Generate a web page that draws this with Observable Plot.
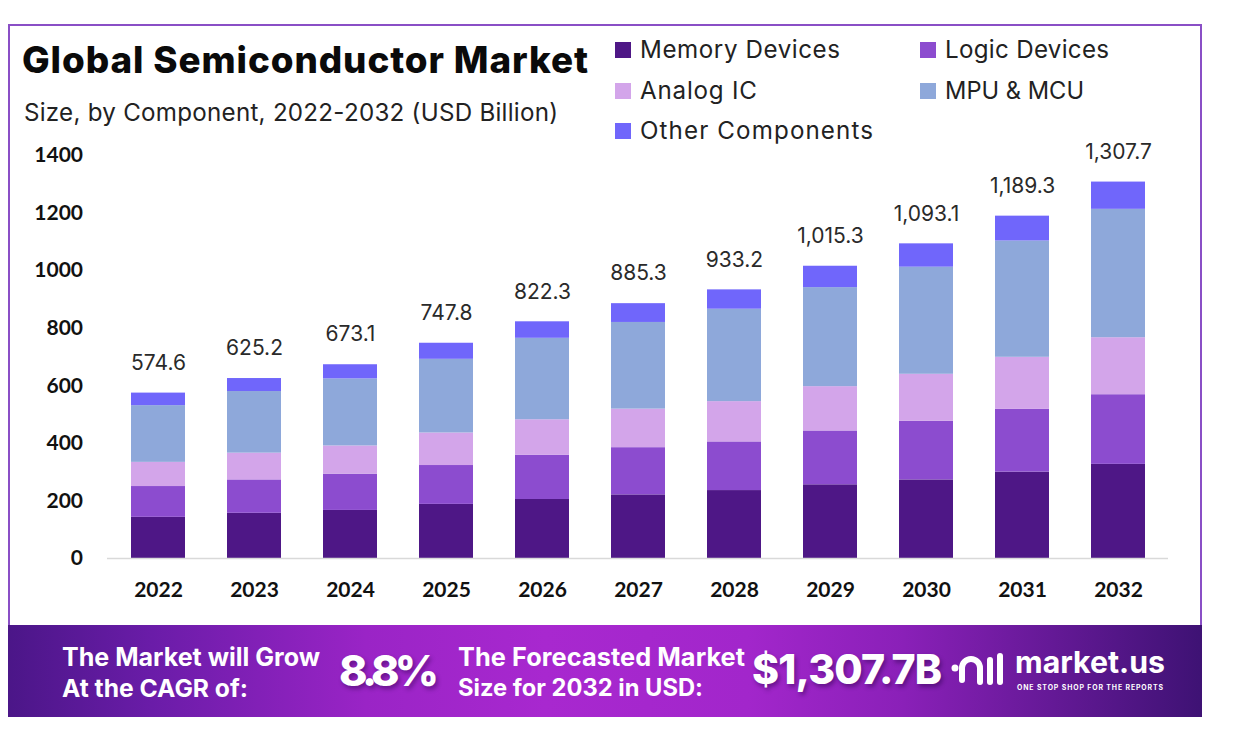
<!DOCTYPE html>
<html>
<head>
<meta charset="utf-8">
<script src="https://cdn.jsdelivr.net/npm/d3@7"></script>
<script src="https://cdn.jsdelivr.net/npm/@observablehq/plot@0.6"></script>
<style>
  html, body { margin: 0; padding: 0; background: #fff; }
  #page { position: relative; width: 1239px; height: 742px; overflow: hidden; font-family: Inter, "Open Sans", sans-serif; }
  .abs { position: absolute; white-space: nowrap; }
  #frame { position: absolute; left: 8px; top: 24px; width: 1190px; height: 605px; border: 2px solid #8a4fc6; box-sizing: content-box; }
  #title { left: 22px; top: 38px; font-size: 32px; font-weight: 800; color: #0a0a0a; line-height: 44px; }
  #subtitle { left: 24px; top: 98px; font-size: 21px; font-weight: 400; color: #222; line-height: 30px; }
  .leg { position: absolute; font-size: 21px; color: #222; line-height: 30px; white-space: nowrap; }
  .sw { position: absolute; width: 16px; height: 16px; }
  #banner { position: absolute; left: 8px; top: 625px; width: 1194px; height: 92px;
    background: linear-gradient(90deg, #4b1688 0%, #6a1ca8 12%, #9a24c6 30%, #a828cf 45%, #a226cb 62%, #8a20b8 75%, #3e1274 100%); }
  .ft { position: absolute; color: #fff; font-weight: 700; white-space: nowrap; }
  #plotwrap { position: absolute; left: 0; top: 120px; }
  #plotwrap svg { overflow: visible; }
</style>
</head>
<body>
<div id="page">
  <div id="frame"></div>
  <div id="plotwrap"></div>
  <div id="title" class="abs">Global Semiconductor Market</div>
  <div id="subtitle" class="abs">Size, by Component, 2022-2032 (USD Billion)</div>
  <div id="legend"></div>
  <div id="banner"></div>
  <div id="footer"></div>
</div>
<script>
// ---- data ----
const years = ["2022","2023","2024","2025","2026","2027","2028","2029","2030","2031","2032"];
const componentNames = ["Memory Devices","Logic Devices","Analog IC","MPU & MCU","Other Components"];
const componentColors = ["#4e1786","#8c4ccf","#d3a5ea","#8ea8da","#7066fb"];
const memoryDevices = [143,157,167,188,205,221,236,256,273,300,327];
const logicDevices  = [107,116,126,135,154,164,169,187,204,218,242];
const analogIC      = [84,93,98,113,123,134,140,154,163,181,198];
const mpuMcu        = [197,214,233,256,283,301,321,344,372,404,446];
const otherComp     = [43.6,45.2,49.1,55.8,57.3,65.3,67.2,74.3,81.1,86.3,94.7];
const totals = [574.6,625.2,673.1,747.8,822.3,885.3,933.2,1015.3,1093.1,1189.3,1307.7];
const yTicks = [0,200,400,600,800,1000,1200,1400];

const seriesValues = [memoryDevices, logicDevices, analogIC, mpuMcu, otherComp];
const rows = years.flatMap((yr, i) => componentNames.map((c, k) => ({year: yr, comp: c, value: seriesValues[k][i]})));
const totalRows = years.map((yr, i) => ({year: yr, total: totals[i]}));
const fmt = d3.format(",.1f");

const chart = Plot.plot({
  width: 1239, height: 490,
  marginLeft: 85.5, marginRight: 49.5, marginTop: 35, marginBottom: 52,
  x: {domain: years, padding: 0.44, label: null},
  y: {domain: [0, 1400], label: null},
  color: {domain: componentNames, range: componentColors},
  style: {fontFamily: "Inter, sans-serif", background: "transparent"},
  marks: [
    Plot.barY(rows, {x: "year", y: "value", fill: "comp"}),
    Plot.ruleY([0], {stroke: "#d9d9d9", strokeWidth: 1.5, insetLeft: 21.5, insetRight: 21.5}),
    Plot.text(totalRows, {x: "year", y: "total", text: d => fmt(d.total), dy: -30, fontSize: 21, fill: "#2a2a2a", fontFamily: "Inter, sans-serif"}),
    Plot.axisX({tickSize: 0, tickPadding: 24, fontSize: 21, fontWeight: 700, fill: "#111", fontFamily: "Lato, sans-serif"}),
    Plot.axisY({ticks: yTicks, tickFormat: d => String(d), tickSize: 0, tickPadding: 3, fontSize: 21, fontWeight: 700, fill: "#111", fontFamily: "Lato, sans-serif"})
  ]
});
document.getElementById("plotwrap").appendChild(chart);

function fitWidth(el, target, maxScale, fixedSize) {
  if (!fixedSize) {
    maxScale = maxScale || 1.15;
    const w0 = el.getBoundingClientRect().width;
    const fs = parseFloat(getComputedStyle(el).fontSize);
    const sc = Math.min(target / w0, maxScale);
    el.style.fontSize = (fs * sc) + "px";
  }
  const w1 = el.getBoundingClientRect().width;
  const n = el.textContent.length;
  if (n > 1) el.style.letterSpacing = ((target - w1) / (n - 1)) + "px";
}

// ---- legend ----
const legendPos = [[615, 50], [920, 50], [615, 91], [920, 91], [615, 131]];
const legendWidths = [200, 164, 117, 139, 233];
const legend = document.getElementById("legend");
componentNames.forEach((n, i) => {
  const [x, cy] = legendPos[i];
  const sw = document.createElement("div");
  sw.className = "sw"; sw.style.left = x + "px"; sw.style.top = (cy - 8) + "px"; sw.style.background = componentColors[i];
  legend.appendChild(sw);
  const t = document.createElement("div");
  t.className = "leg"; t.textContent = n; t.style.left = (x + 25) + "px"; t.style.top = (cy - 15) + "px";
  legend.appendChild(t);
  fitWidth(t, legendWidths[i]);
});

// ---- footer ----
const footer = document.getElementById("footer");
function ft(text, x, cy, size, w, weight, lh, fixed) {
  const d = document.createElement("div");
  const lineH = lh || size * 1.4;
  d.className = "ft"; d.textContent = text;
  d.style.left = x + "px"; d.style.top = (cy - lineH / 2) + "px";
  d.style.fontSize = size + "px"; d.style.lineHeight = lineH + "px";
  if (weight) d.style.fontWeight = weight;
  footer.appendChild(d);
  if (w) fitWidth(d, w, null, fixed);
  return d;
}
ft("The Market will Grow", 62, 657, 22, 258);
ft("At the CAGR of:", 62, 688, 22, 186);
const p1 = ft("8.8%", 339, 670, 43, 100, 800, 54, true);
ft("The Forecasted Market", 458, 657, 22, 287);
ft("Size for 2032 in USD:", 458, 688, 22, 245);
const p2 = ft("$1,307.7B", 752, 669, 41, 190, 800, 52, true);
[p1, p2].forEach(p => p.style.textShadow = "2px 3px 4px rgba(40,0,70,0.45)");
ft("market.us", 1015, 662, 34, 150, 700, 32);
ft("ONE STOP SHOP FOR THE REPORTS", 1017, 687, 6, 146, 700, 7);

// logo icon
const svgNS = "http://www.w3.org/2000/svg";
const icon = document.createElementNS(svgNS, "svg");
icon.setAttribute("width", 60); icon.setAttribute("height", 40);
icon.style.position = "absolute"; icon.style.left = "950px"; icon.style.top = "650px";
icon.innerHTML = '<circle cx="5" cy="18" r="3.5" fill="#fff"/>' +
  '<path d="M12 30 L12 18 A9 9 0 0 1 30 18 L30 32" fill="none" stroke="#fff" stroke-width="6" stroke-linecap="round"/>' +
  '<line x1="40" y1="10" x2="40" y2="32" stroke="#fff" stroke-width="6" stroke-linecap="round"/>' +
  '<line x1="50" y1="6" x2="50" y2="32" stroke="#fff" stroke-width="6" stroke-linecap="round"/>';
footer.appendChild(icon);

fitWidth(document.getElementById("title"), 566);
fitWidth(document.getElementById("subtitle"), 534);
</script>
</body>
</html>
